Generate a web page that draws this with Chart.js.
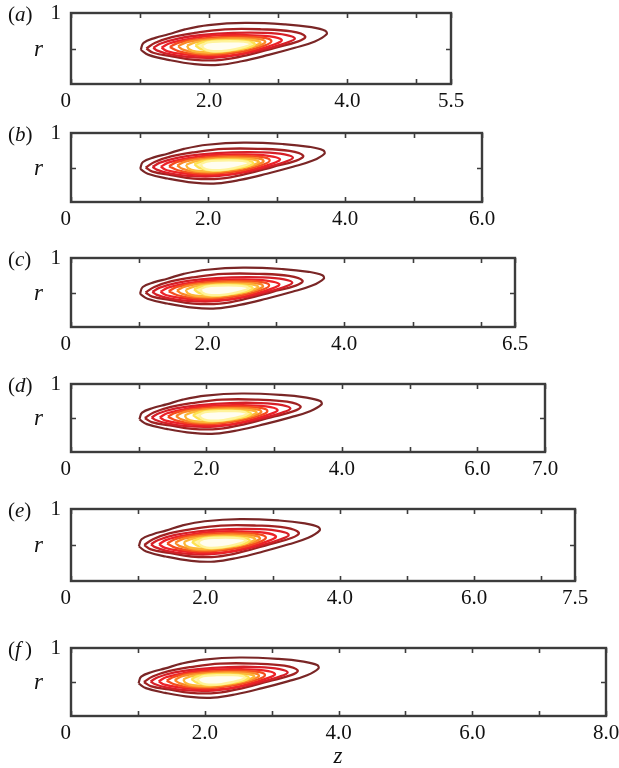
<!DOCTYPE html>
<html>
<head>
<meta charset="utf-8">
<script src="https://cdn.jsdelivr.net/npm/chart.js@4/dist/chart.umd.min.js"></script>
<style>
  html, body { margin: 0; padding: 0; background: #fff; }
  #page { position: relative; width: 619px; height: 768px; overflow: hidden; }
  #page canvas { position: absolute; left: 0; }
  .txt { position: absolute; font-family: "Liberation Serif", "DejaVu Serif", serif; color: #111; line-height: 24px; height: 24px; white-space: nowrap; }
  .tag { font-size: 21px; }
  .sym { font-size: 23px; font-style: italic; }
</style>
</head>
<body>
<div id="page"></div>
<script>
// --- Data: panel labels, domain lengths, labelled z ticks ---
const panelTags = ['a', 'b', 'c', 'd', 'e', 'f'];
const zMax = [5.5, 6.0, 6.5, 7.0, 7.5, 8.0];
const zLabelled = [
  [0, 2, 4, 5.5],
  [0, 2, 4, 6],
  [0, 2, 4, 6.5],
  [0, 2, 4, 6, 7],
  [0, 2, 4, 6, 7.5],
  [0, 2, 4, 6, 8],
];

// contour levels, outermost first (z, r along each closed curve)
const lvl1Z = [1.01, 1.05, 1.22, 1.41, 1.65, 1.99, 2.52, 3.10, 3.48, 3.68, 3.70, 3.53, 3.24, 2.86, 2.47, 2.13, 1.79, 1.41, 1.12, 1.01];
const lvl1R = [0.48, 0.58, 0.65, 0.70, 0.77, 0.83, 0.86, 0.84, 0.80, 0.75, 0.70, 0.60, 0.51, 0.41, 0.32, 0.27, 0.28, 0.34, 0.41, 0.48];
const lvl2Z = [1.09, 1.22, 1.46, 1.79, 2.23, 2.76, 3.19, 3.39, 3.29, 2.95, 2.57, 2.18, 1.79, 1.46, 1.19, 1.09];
const lvl2R = [0.50, 0.58, 0.66, 0.72, 0.77, 0.77, 0.74, 0.67, 0.60, 0.51, 0.41, 0.34, 0.34, 0.39, 0.44, 0.50];
const lvl3Z = [1.19, 1.30, 1.55, 1.90, 2.35, 2.80, 3.12, 3.24, 3.12, 2.80, 2.42, 2.05, 1.70, 1.42, 1.25, 1.19];
const lvl3R = [0.51, 0.57, 0.64, 0.69, 0.72, 0.72, 0.69, 0.64, 0.58, 0.49, 0.41, 0.37, 0.38, 0.42, 0.47, 0.51];
const lvl4Z = [1.31, 1.42, 1.68, 2.05, 2.50, 2.88, 3.05, 2.95, 2.65, 2.30, 1.95, 1.62, 1.40, 1.31];
const lvl4R = [0.51, 0.57, 0.63, 0.68, 0.69, 0.67, 0.62, 0.56, 0.47, 0.40, 0.39, 0.42, 0.46, 0.51];
const lvl5Z = [1.43, 1.55, 1.82, 2.18, 2.58, 2.82, 2.90, 2.80, 2.50, 2.12, 1.80, 1.56, 1.43];
const lvl5R = [0.52, 0.58, 0.63, 0.66, 0.665, 0.645, 0.60, 0.54, 0.46, 0.415, 0.42, 0.46, 0.52];
const lvl6Z = [1.55, 1.68, 1.95, 2.30, 2.62, 2.78, 2.81, 2.70, 2.42, 2.08, 1.80, 1.63, 1.55];
const lvl6R = [0.53, 0.59, 0.625, 0.645, 0.64, 0.62, 0.585, 0.535, 0.47, 0.43, 0.44, 0.48, 0.53];
const lvl7Z = [1.68, 1.80, 2.05, 2.35, 2.60, 2.72, 2.74, 2.62, 2.35, 2.05, 1.82, 1.71, 1.68];
const lvl7R = [0.54, 0.585, 0.615, 0.625, 0.62, 0.60, 0.575, 0.53, 0.475, 0.445, 0.455, 0.49, 0.54];
const lvl8Z = [1.80, 1.90, 2.12, 2.38, 2.58, 2.66, 2.58, 2.35, 2.08, 1.88, 1.80];
const lvl8R = [0.545, 0.585, 0.61, 0.61, 0.595, 0.565, 0.52, 0.48, 0.455, 0.49, 0.545];
const lvl9Z = [1.90, 1.98, 2.18, 2.42, 2.56, 2.60, 2.50, 2.25, 2.02, 1.92, 1.90];
const lvl9R = [0.55, 0.585, 0.60, 0.60, 0.585, 0.56, 0.52, 0.47, 0.465, 0.50, 0.55];

const levelZ = [lvl1Z, lvl2Z, lvl3Z, lvl4Z, lvl5Z, lvl6Z, lvl7Z, lvl8Z, lvl9Z];
const levelR = [lvl1R, lvl2R, lvl3R, lvl4R, lvl5R, lvl6R, lvl7R, lvl8R, lvl9R];

// hot colormap, dark red outside to pale yellow in the core
const levelColors = ['#7a2626', '#a02222', '#d61f27', '#ec2228', '#f44c1e', '#f98828', '#fcb638', '#fde252', '#fff39a'];
// only the two innermost levels get a soft fill
const levelFills = [null, null, null, null, null, null, null, '#fff3b4', '#fffdf0'];

// --- Layout (pixels) ---
const plotLeft = 71;
const panelTop = [13, 133, 258, 384, 509, 648];
const panelBottom = [84, 202, 327, 452, 581, 716];
const panelRight = [451, 482, 515, 545, 575, 606];
const padTop = 14;
const xAxisH = 34;

Chart.defaults.font.family = '"Liberation Serif", "DejaVu Serif", serif';
Chart.defaults.font.size = 21;
Chart.defaults.color = '#111';

const page = document.getElementById('page');

// box frame + inward tick marks on all four sides
const framePlugin = {
  id: 'frame',
  afterDatasetsDraw(chart) {
    const { ctx, chartArea: a, scales } = chart;
    ctx.save();
    ctx.strokeStyle = '#3c3c3c';
    ctx.lineWidth = 1.6;
    ctx.beginPath();
    scales.x.ticks.forEach(t => {
      const px = Math.round(scales.x.getPixelForValue(t.value)) + 0.5;
      ctx.moveTo(px, a.bottom); ctx.lineTo(px, a.bottom - 5);
      ctx.moveTo(px, a.top); ctx.lineTo(px, a.top + 5);
    });
    const py = Math.round(scales.y.getPixelForValue(0.5)) + 0.5;
    ctx.moveTo(a.left, py); ctx.lineTo(a.left + 5, py);
    ctx.moveTo(a.right, py); ctx.lineTo(a.right - 5, py);
    ctx.stroke();
    ctx.lineWidth = 2.4;
    ctx.strokeRect(a.left, a.top, a.right - a.left, a.bottom - a.top);
    ctx.restore();
  }
};

function addText(html, cls, left, centerY, center) {
  const el = document.createElement('div');
  el.className = 'txt ' + cls;
  el.innerHTML = html;
  el.style.top = (centerY - 12) + 'px';
  el.style.left = left + 'px';
  if (center) el.style.transform = 'translateX(-50%)';
  page.appendChild(el);
}

function zLabel(v, i) {
  if (!zLabelled[i].includes(v)) return '';
  // the origin label sits a little left of the axis
  return v === 0 ? '0\u2002' : v.toFixed(1);
}

function buildPanel(i) {
  const top = panelTop[i];
  const plotH = panelBottom[i] - top;
  const canvas = document.createElement('canvas');
  canvas.width = 619;
  canvas.height = padTop + plotH + xAxisH;
  canvas.style.top = (top - padTop) + 'px';
  page.appendChild(canvas);

  const L = zMax[i];
  const tickVals = [];
  for (let v = 0; v <= L; v++) tickVals.push(v);
  if (tickVals[tickVals.length - 1] !== L) tickVals.push(L);

  const datasets = levelZ.map((zs, k) => ({
    data: zs.map((z, j) => ({ x: z, y: levelR[k][j] })),
    showLine: true,
    borderColor: levelColors[k],
    backgroundColor: levelFills[k] || 'transparent',
    borderWidth: k === 0 ? 2.2 : 2.3,
    pointRadius: 0,
    tension: 0.4,
    fill: levelFills[k] ? 'shape' : false,
    order: levelZ.length - k,
  }));

  const zeroPads = (s) => { s.paddingLeft = 0; s.paddingRight = 0; s.paddingTop = 0; s.paddingBottom = 0; };

  new Chart(canvas, {
    type: 'scatter',
    data: { datasets },
    options: {
      responsive: false,
      animation: false,
      events: [],
      layout: { padding: { left: 0, top: padTop, right: 619 - panelRight[i], bottom: 0 } },
      plugins: { legend: { display: false }, tooltip: { enabled: false } },
      scales: {
        x: {
          type: 'linear',
          min: 0,
          max: L,
          grid: { display: false, drawTicks: false },
          border: { display: false },
          afterBuildTicks: (s) => { s.ticks = tickVals.map(v => ({ value: v })); },
          afterFit: (s) => { s.height = xAxisH; zeroPads(s); },
          ticks: {
            autoSkip: false,
            maxRotation: 0,
            padding: 5,
            callback: (v) => zLabel(v, i),
          },
        },
        y: {
          type: 'linear',
          min: 0,
          max: 1,
          grid: { display: false, drawTicks: false },
          border: { display: false },
          afterBuildTicks: (s) => { s.ticks = [0, 0.5, 1].map(v => ({ value: v })); },
          afterFit: (s) => { s.width = plotLeft; zeroPads(s); },
          ticks: {
            padding: 10,
            callback: (v) => v === 1 ? '1' : '',
          },
        },
      },
    },
    plugins: [framePlugin],
  });

  const mid = (top + panelBottom[i]) / 2;
  addText('(<i>' + panelTags[i] + '</i>' + (panelTags[i] === 'f' ? '&#8201;' : '') + ')', 'tag', 8, top + 1);
  addText('r', 'sym', 34, mid);
}

panelTags.forEach((_, i) => buildPanel(i));
addText('z', 'sym', 338, 756, true);
</script>
</body>
</html>
